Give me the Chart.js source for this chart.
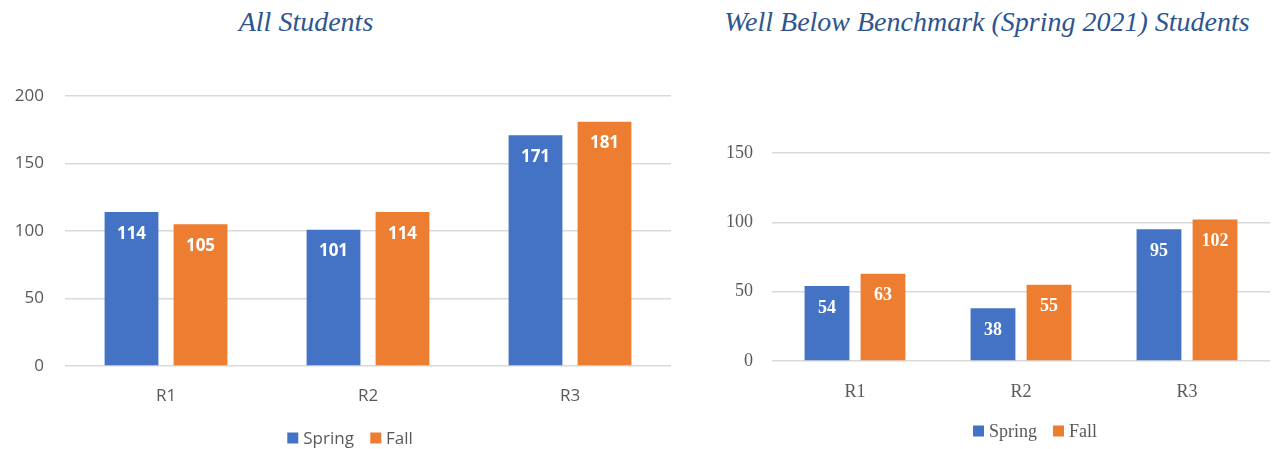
<!DOCTYPE html>
<html>
<head>
<meta charset="utf-8">
<script src="https://cdn.jsdelivr.net/npm/chart.js@4.4.0/dist/chart.umd.min.js"></script>
<style>
  body { margin: 0; width: 1274px; height: 449px; background: #fff; position: relative; overflow: hidden; }
  canvas { position: absolute; top: 0; }
  .title { position: absolute; top: 6px; font-family: "Liberation Serif", serif; font-style: italic; font-size: 28px; color: #2e5590; white-space: nowrap; transform: translateX(-50%); }
  .legend { position: absolute; transform: translate(-50%, -50%); white-space: nowrap; color: #595959; }
  .legend .item { margin: 0 8px; }
  .legend .sw { display: inline-block; width: 11px; height: 11px; margin-right: 5px; }
  .sans { font-family: "Open Sans", sans-serif; font-size: 17px; }
  .serif { font-family: "Liberation Serif", serif; font-size: 18px; }
</style>
</head>
<body>
<div class="title" style="left:306px">All Students</div>
<div class="title" style="left:987px">Well Below Benchmark (Spring 2021) Students</div>
<canvas id="allChart" width="680" height="449" style="left:0"></canvas>
<canvas id="wbbChart" width="584" height="449" style="left:690px"></canvas>
<div class="legend sans" id="allLegend" style="left:350px; top:437px"></div>
<div class="legend serif" id="wbbLegend" style="left:1035px; top:431px"></div>

<script>
const categories = ['R1', 'R2', 'R3'];
const seriesNames = ['Spring', 'Fall'];
const seriesColors = ['#4472C4', '#ED7D31'];

// all students
const allSpring = [114, 101, 171];
const allFall = [105, 114, 181];
const allTicks = [0, 50, 100, 150, 200];

// well below benchmark (spring 2021) students
const wbbSpring = [54, 38, 95];
const wbbFall = [63, 55, 102];
const wbbTicks = [0, 50, 100, 150];

// white value labels just inside the top of each bar
const barLabels = {
  id: 'barLabels',
  afterDatasetsDraw(chart, args, opts) {
    var ctx = chart.ctx;
    ctx.save();
    ctx.fillStyle = '#ffffff';
    ctx.font = opts.font;
    ctx.textAlign = 'center';
    ctx.textBaseline = 'middle';
    chart.data.datasets.forEach(function (ds, i) {
      chart.getDatasetMeta(i).data.forEach(function (bar, j) {
        ctx.fillText(ds.data[j], bar.x, bar.y + opts.offset);
      });
    });
    ctx.restore();
  }
};

function makeChart(id, spring, fall, ticks, cfg) {
  var sets = [spring, fall].map(function (vals, i) {
    return {
      label: seriesNames[i],
      data: vals,
      backgroundColor: seriesColors[i],
      categoryPercentage: cfg.catPct,
      barPercentage: cfg.barPct
    };
  });
  return new Chart(document.getElementById(id), {
    type: 'bar',
    data: { labels: categories, datasets: sets },
    plugins: [barLabels],
    options: {
      responsive: false,
      animation: false,
      layout: { padding: { top: cfg.top, right: cfg.right, left: 0, bottom: 0 } },
      plugins: {
        legend: { display: false },
        tooltip: { enabled: false },
        barLabels: { font: cfg.labelFont, offset: 22 }
      },
      scales: {
        x: {
          grid: { display: false },
          border: { display: false },
          ticks: { color: '#595959', font: cfg.tickFont, padding: cfg.xPad },
          afterFit: function (scale) { scale.height = cfg.xHeight; }
        },
        y: {
          min: ticks[0],
          max: ticks[ticks.length - 1],
          afterBuildTicks: function (scale) {
            scale.ticks = ticks.map(function (v) { return { value: v }; });
          },
          grid: { color: '#d9d9d9', drawTicks: false, lineWidth: 1.5 },
          border: { display: false },
          ticks: { color: '#595959', font: cfg.tickFont, padding: cfg.yPad },
          afterFit: function (scale) { scale.width = cfg.yWidth; }
        }
      }
    }
  });
}

function makeLegend(id) {
  var el = document.getElementById(id);
  el.innerHTML = seriesNames.map(function (name, i) {
    return '<span class="item"><span class="sw" style="background:' + seriesColors[i] + '"></span>' + name + '</span>';
  }).join('');
}

makeChart('allChart', allSpring, allFall, allTicks, {
  top: 96, right: 9, yWidth: 65, xHeight: 83, yPad: 21, xPad: 12,
  catPct: 0.683, barPct: 0.78,
  tickFont: { family: 'Open Sans', size: 17 },
  labelFont: 'bold 17px "Open Sans"'
});

makeChart('wbbChart', wbbSpring, wbbFall, wbbTicks, {
  top: 153, right: 4, yWidth: 82, xHeight: 88, yPad: 19, xPad: 12,
  catPct: 0.675, barPct: 0.80,
  tickFont: { family: 'Liberation Serif', size: 18 },
  labelFont: 'bold 18px "Liberation Serif"'
});

makeLegend('allLegend');
makeLegend('wbbLegend');
</script>
</body>
</html>
